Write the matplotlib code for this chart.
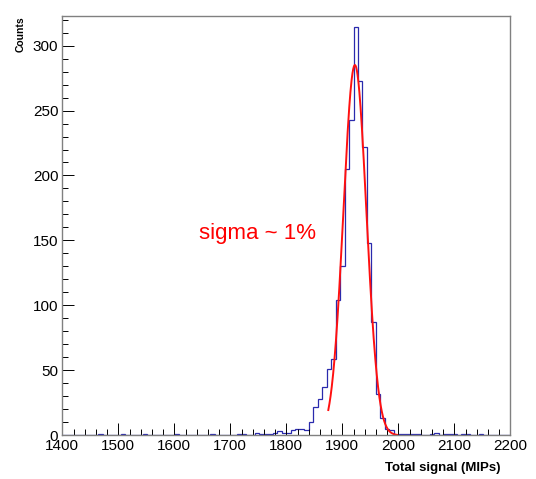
import numpy as np
import matplotlib.pyplot as plt
from matplotlib.ticker import MultipleLocator

plt.rcParams['font.family'] = ['Liberation Sans', 'DejaVu Sans']

# гистограмма: 100 бинов по 8 MIP от 1400 до 2200
bin_lo = 1400
bin_hi = 2200
n_bins = 100
counts = [
    0, 0, 0, 0, 0, 0, 0, 0, 1, 0,          # 1400-1480
    0, 0, 0, 1, 0, 0, 0, 0, 1, 0,          # 1480-1560
    0, 0, 0, 0, 0, 1, 0, 0, 0, 0,          # 1560-1640
    0, 0, 0, 1, 0, 0, 0, 0, 0, 1,          # 1640-1720
    1, 0, 0, 2, 1, 1, 1, 2, 3, 2,          # 1720-1800
    2, 4, 5, 5, 4, 10, 22, 28, 37, 51,     # 1800-1880
    59, 104, 130, 205, 243, 314, 273, 222, 148, 87,  # 1880-1960
    32, 13, 5, 4, 0, 1, 1, 1, 1, 1,        # 1960-2040
    0, 0, 1, 2, 0, 1, 1, 1, 0, 1,          # 2040-2120
    1, 0, 0, 1, 0, 0, 0, 0, 0, 0,          # 2120-2200
]

# параметры гауссова фита
fit_amp = 285
fit_mean = 1922.5
fit_sigma = 20.5
fit_lo = 1875
fit_hi = 1998

sigma_text = 'sigma ~ 1%'

edges = np.linspace(bin_lo, bin_hi, n_bins + 1)
xf = np.linspace(fit_lo, fit_hi, 300)
yf = fit_amp * np.exp(-0.5 * ((xf - fit_mean) / fit_sigma) ** 2)

fig = plt.figure(figsize=(5.36, 4.79), dpi=100)
ax = fig.add_axes([62.3 / 536, 1 - 435.3 / 479, 448 / 536, 419.6 / 479])

ax.stairs(counts, edges, color='#2a2aad', lw=0.9)
ax.plot(xf, yf, color='#ff1010', lw=1.4)

ax.set_xlim(bin_lo, bin_hi)
ax.set_ylim(0, 323)
ax.xaxis.set_major_locator(MultipleLocator(100))
ax.xaxis.set_minor_locator(MultipleLocator(20))
ax.yaxis.set_major_locator(MultipleLocator(50))
ax.yaxis.set_minor_locator(MultipleLocator(10))
ax.tick_params(which='both', direction='in', width=0.7, color='black')
ax.tick_params(which='major', length=8.9, labelsize=11)
ax.tick_params(axis='x', which='major', pad=2.5)
ax.tick_params(axis='y', which='major', pad=2.9)
ax.tick_params(which='minor', length=4.3)
for s in ax.spines.values():
    s.set_color('#808080')
    s.set_linewidth(1.0)

ax.text(1644, 155, sigma_text, color='#ff0000', fontsize=16,
        ha='left', va='center')

fig.text(500.7 / 536, 1 - 468.3 / 479, 'Total signal (MIPs)',
         fontsize=9.5, fontweight='bold', ha='right', va='center')
fig.text(20.5 / 536, 1 - 34 / 479, 'Counts', fontsize=7.5,
         fontweight='bold', rotation=90, ha='center', va='center')

fig.savefig('out.png', dpi=100)
